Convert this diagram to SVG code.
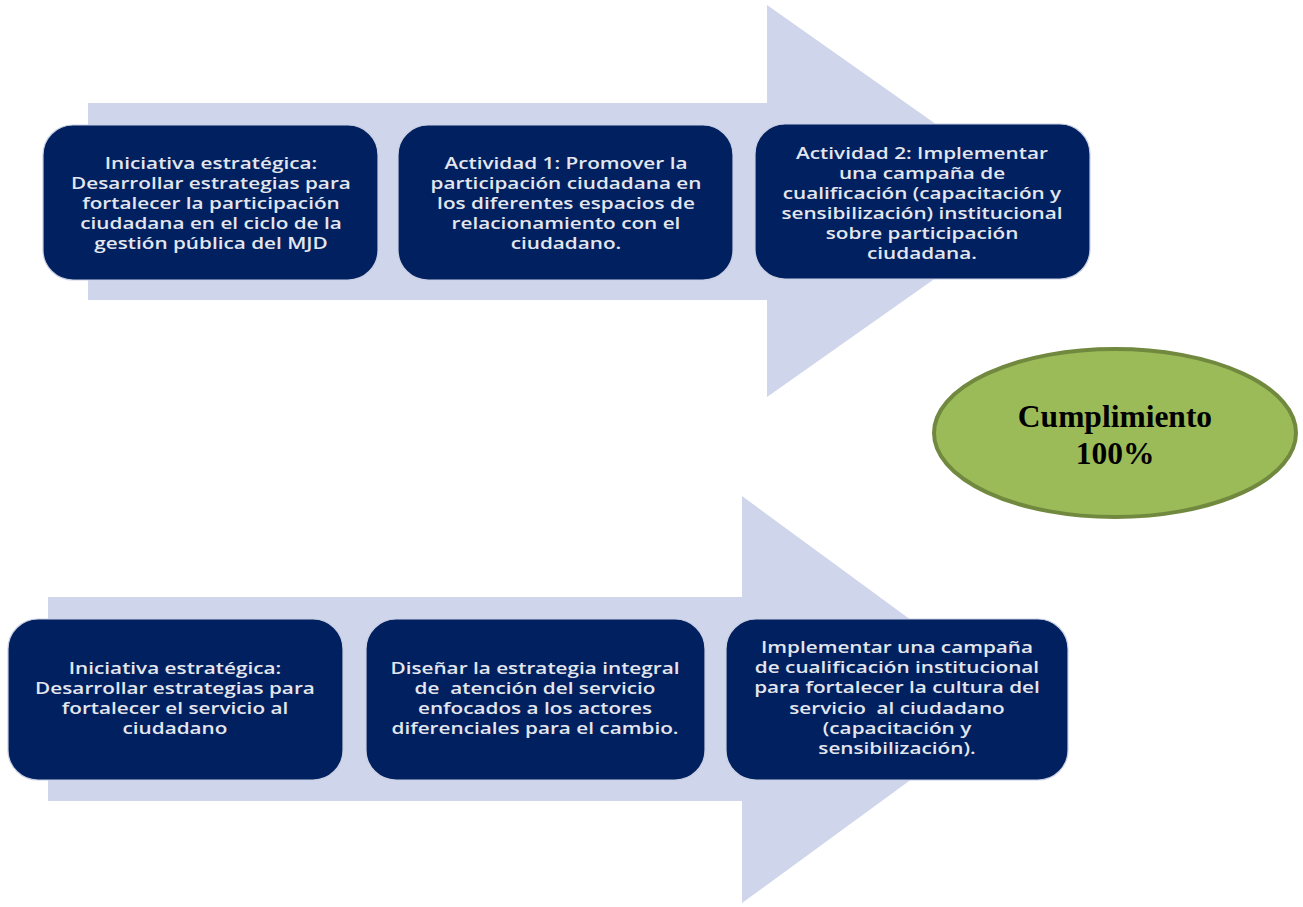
<svg xmlns="http://www.w3.org/2000/svg" width="1303" height="907" viewBox="0 0 1303 907">
<style>
.arrow{fill:#cfd5ea}
.box{fill:#00205f;stroke:#c9cfe3;stroke-width:1.2}
.t{font-family:"Open Sans","DejaVu Sans",sans-serif;font-size:17px;font-weight:600;fill:#e4e6ee;text-anchor:middle}
.c{font-family:"Liberation Serif","Times New Roman",serif;font-size:31.5px;font-weight:bold;fill:#000;text-anchor:middle}
</style>
<rect width="1303" height="907" fill="#fff"/>
<g id="arrow-top">
<path class="arrow" d="M88,103 H767 V5 L1045,201 L767,397 V300 H88 Z"/>
</g>
<g id="arrow-bottom">
<path class="arrow" d="M48,597 H742 V496 L1020,700 L742,903 V801 H48 Z"/>
</g>
<g id="connectors"></g>
<g id="node-1">
<rect class="box" x="43" y="125" width="335" height="155" rx="30"/>
<text class="t" transform="translate(211,0) scale(1.22,1) translate(-211,0)"><tspan x="211" y="169">Iniciativa estratégica:</tspan><tspan x="211" y="189">Desarrollar estrategias para</tspan><tspan x="211" y="209">fortalecer la participación</tspan><tspan x="211" y="229">ciudadana en el ciclo de la</tspan><tspan x="211" y="249">gestión pública del MJD</tspan></text>
</g>
<g id="node-2">
<rect class="box" x="398" y="125" width="335" height="155" rx="30"/>
<text class="t" transform="translate(566,0) scale(1.22,1) translate(-566,0)"><tspan x="566" y="169">Actividad 1: Promover la</tspan><tspan x="566" y="189">participación ciudadana en</tspan><tspan x="566" y="209">los diferentes espacios de</tspan><tspan x="566" y="229">relacionamiento con el</tspan><tspan x="566" y="249">ciudadano.</tspan></text>
</g>
<g id="node-3">
<rect class="box" x="755" y="124" width="335" height="155" rx="30"/>
<text class="t" transform="translate(922,0) scale(1.22,1) translate(-922,0)"><tspan x="922" y="159">Actividad 2: Implementar</tspan><tspan x="922" y="179">una campaña de</tspan><tspan x="922" y="199">cualificación (capacitación y</tspan><tspan x="922" y="219">sensibilización) institucional</tspan><tspan x="922" y="239">sobre participación</tspan><tspan x="922" y="259">ciudadana.</tspan></text>
</g>
<g id="node-4">
<rect class="box" x="8" y="619" width="335" height="161" rx="30"/>
<text class="t" transform="translate(175,0) scale(1.22,1) translate(-175,0)"><tspan x="175" y="674">Iniciativa estratégica:</tspan><tspan x="175" y="694">Desarrollar estrategias para</tspan><tspan x="175" y="714">fortalecer el servicio al</tspan><tspan x="175" y="734">ciudadano</tspan></text>
</g>
<g id="node-5">
<rect class="box" x="366" y="619" width="339" height="161" rx="30"/>
<text class="t" xml:space="preserve" transform="translate(535,0) scale(1.22,1) translate(-535,0)"><tspan x="535" y="674">Diseñar la estrategia integral</tspan><tspan x="535" y="694">de  atención del servicio</tspan><tspan x="535" y="714">enfocados a los actores</tspan><tspan x="535" y="734">diferenciales para el cambio.</tspan></text>
</g>
<g id="node-6">
<rect class="box" x="726" y="619" width="342" height="161" rx="30"/>
<text class="t" xml:space="preserve" transform="translate(897,0) scale(1.22,1) translate(-897,0)"><tspan x="897" y="653">Implementar una campaña</tspan><tspan x="897" y="673">de cualificación institucional</tspan><tspan x="897" y="693">para fortalecer la cultura del</tspan><tspan x="897" y="714">servicio  al ciudadano</tspan><tspan x="897" y="734">(capacitación y</tspan><tspan x="897" y="754">sensibilización).</tspan></text>
</g>
<g id="node-cumplimiento">
<ellipse cx="1115" cy="433" rx="181" ry="84" fill="#9bbb59" stroke="#71893f" stroke-width="4"/>
<text class="c"><tspan x="1115" y="427">Cumplimiento</tspan><tspan x="1115" y="464">100%</tspan></text>
</g>
</svg>
